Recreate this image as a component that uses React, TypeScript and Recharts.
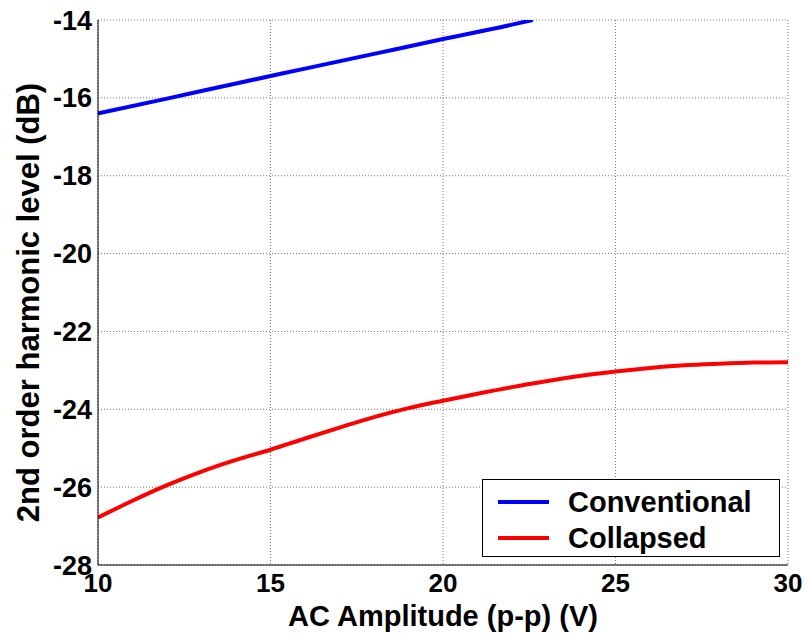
import React from 'react';
import { LineChart, Line, XAxis, YAxis, CartesianGrid } from 'recharts';

const conventionalX = [10, 12, 14, 16, 18, 20, 22, 22.6];
const conventionalY = [-16.4, -16.02, -15.63, -15.25, -14.87, -14.49, -14.12, -14.0];

const collapsedX = [10, 11, 12, 13, 14, 15, 16, 17, 18, 19, 20, 21, 22, 23, 24, 25, 26, 27, 28, 29, 30];
const collapsedY = [
    -26.78, -26.35, -25.95, -25.6, -25.3, -25.04, -24.75, -24.47, -24.2, -23.97, -23.78,
    -23.6, -23.43, -23.28, -23.14, -23.03, -22.94, -22.87, -22.83, -22.8, -22.79,
];

const xTicks = [10, 15, 20, 25, 30];
const yTicks = [-28, -26, -24, -22, -20, -18, -16, -14];

const seriesNames = ['Conventional', 'Collapsed'];
const seriesColors = ['#0000ff', '#ff0000'];

const conventionalData = conventionalX.map((x, i) => ({ x, y: conventionalY[i] }));
const collapsedData = collapsedX.map((x, i) => ({ x, y: collapsedY[i] }));

const font = 'Liberation Sans, Arial, sans-serif';
const labelStyle = { fill: '#000', fontSize: 29, fontWeight: 'bold' as const, fontFamily: font };

const XLabel = (props: any) => {
    const vb = props.viewBox;
    return (
        <text x={vb.x + vb.width / 2} y={626} textAnchor="middle" style={labelStyle}>
            AC Amplitude (p-p) (V)
        </text>
    );
};

const YLabel = (props: any) => {
    const vb = props.viewBox;
    const cy = vb.y + vb.height / 2 + 10;
    return (
        <text x={39} y={cy} textAnchor="middle" transform={`rotate(-90, 39, ${cy})`} style={{ ...labelStyle, fontSize: 31 }}>
            2nd order harmonic level (dB)
        </text>
    );
};

// legend is drawn as an overlay so it does not take room from the plot
const LegendBox = () => (
    <div
        style={{
            position: 'absolute',
            left: 482,
            top: 479,
            width: 298,
            height: 78,
            border: '1.5px solid #000',
            background: '#fff',
            fontFamily: font,
            fontWeight: 'bold',
            fontSize: 29,
            boxSizing: 'border-box',
            paddingTop: 4,
        }}
    >
        {seriesNames.map((name, i) => (
            <div key={name} style={{ display: 'flex', alignItems: 'center', height: 36 }}>
                <div style={{ width: 51, height: 4, background: seriesColors[i], marginLeft: 15, marginRight: 19 }} />
                <span style={{ color: '#000' }}>{name}</span>
            </div>
        ))}
    </div>
);

const App: React.FC = () => {
    return (
        <div style={{ position: 'absolute', left: 0, top: 0, width: 807, height: 634, background: '#fff' }}>
            <LineChart width={807} height={634} margin={{ top: 20, right: 19, left: 0, bottom: 0 }}>
                <CartesianGrid stroke="#555" strokeDasharray="1 2" strokeWidth={0.8} />
                <XAxis
                    dataKey="x"
                    type="number"
                    domain={[10, 30]}
                    ticks={xTicks}
                    allowDataOverflow
                    height={69}
                    stroke="#000"
                    tickLine={false}
                    tick={{ fill: '#000', fontSize: 26, fontWeight: 'bold', fontFamily: font }}
                    tickMargin={3}
                    label={<XLabel />}
                />
                <XAxis xAxisId="top" orientation="top" type="number" domain={[10, 30]} height={0} stroke="#000" tick={false} tickLine={false} />
                <YAxis
                    type="number"
                    domain={[-28, -14]}
                    ticks={yTicks}
                    allowDataOverflow
                    width={98}
                    stroke="#000"
                    tickLine={false}
                    tick={{ fill: '#000', fontSize: 27, fontWeight: 'bold', fontFamily: font }}
                    tickMargin={0}
                    label={<YLabel />}
                />
                <YAxis yAxisId="right" orientation="right" type="number" domain={[-28, -14]} width={0} stroke="#000" tick={false} tickLine={false} />
                <Line
                    data={conventionalData}
                    dataKey="y"
                    name={seriesNames[0]}
                    stroke={seriesColors[0]}
                    strokeWidth={4}
                    dot={false}
                    type="monotone"
                    isAnimationActive={false}
                />
                <Line
                    data={collapsedData}
                    dataKey="y"
                    name={seriesNames[1]}
                    stroke={seriesColors[1]}
                    strokeWidth={4}
                    dot={false}
                    type="monotone"
                    isAnimationActive={false}
                />
            </LineChart>
            <LegendBox />
        </div>
    );
};

export default App;
